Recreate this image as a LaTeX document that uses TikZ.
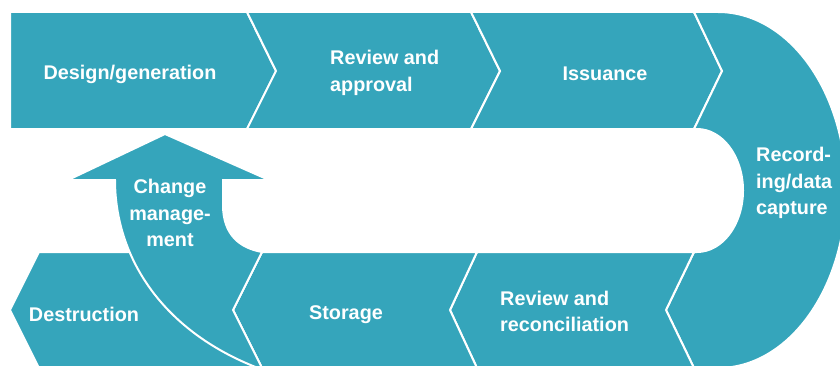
\documentclass[tikz,border=0pt]{standalone}
\usepackage{fontspec}
\setmainfont{Liberation Sans}
\definecolor{teal1}{HTML}{35A5BB}
\tikzset{
  piece/.style={fill=teal1, draw=white, line width=2pt, line join=miter},
  lbl/.style={text=white, font=\bfseries\fontsize{19.8}{26.3}\selectfont, inner sep=0pt},
}
\begin{document}
\begin{tikzpicture}[x=1pt,y=1pt]
\useasboundingbox (0,0) rectangle (840,365);
\clip (0,0) rectangle (840,365);
% top band
\draw[piece] (10,353) -- (247,353) -- (276,294) -- (247,236) -- (10,236) -- cycle;
\draw[piece] (247,353) -- (471,353) -- (500,294) -- (471,236) -- (247,236) -- (276,294) -- cycle;
\draw[piece] (471,353) -- (694,353) -- (722,294) -- (694,236) -- (471,236) -- (500,294) -- cycle;
% curved recording piece
\draw[piece] (694,353) -- (718,353) arc[start angle=90, end angle=-90, x radius=128, y radius=178]
  -- (694,-3) -- (666,55) -- (694,113) -- (697,113)
  arc[start angle=-90, end angle=90, x radius=46, y radius=61.5]
  -- (694,236) -- (722,294) -- cycle;
% bottom band
\draw[piece] (694,113) -- (666,55) -- (694,-3) -- (477,-3) -- (450,55) -- (477,113) -- cycle;
\draw[piece] (477,113) -- (450,55) -- (477,-3) -- (262,-3) -- (233,55) -- (262,113) -- cycle;
\draw[piece] (262,113) -- (233,55) -- (262,-3) -- (39,-3) -- (10,55) -- (39,113) -- cycle;
% change management arrow
\draw[piece] (258,-3) .. controls (160,35) and (115,110) .. (115,185) -- (68,185) -- (165,231)
  -- (269,185) -- (223,185) -- (223,160) .. controls (223,130) and (240,117) .. (262,113)
  -- (233,55) -- (262,-3) -- cycle;
% labels
\node[lbl] (design) at (130,291) {Design/generation};
\node[lbl, anchor=west, align=left] (revapp) at (330,292) {Review and\\approval};
\node[lbl] (issuance) at (605,291) {Issuance};
\node[lbl, anchor=west, align=left] (recording) at (756,182) {Record-\\ing/data\\capture};
\node[lbl, anchor=west, align=left] (revrec) at (500,53.5) {Review and\\reconciliation};
\node[lbl] (storage) at (346,50) {Storage};
\node[lbl] (destruction) at (84,51) {Destruction};
\node[lbl, align=center] (change) at (170,152) {Change\\manage-\\ment};
\end{tikzpicture}
\end{document}
